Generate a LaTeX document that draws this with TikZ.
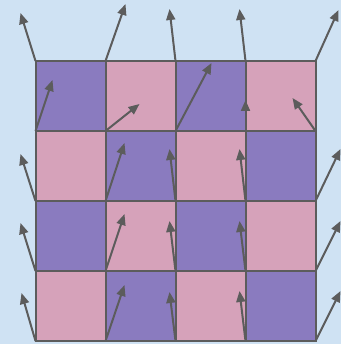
\documentclass[tikz,border=0pt]{standalone}
\usepackage{xcolor}
\usepackage{tikz}
\usetikzlibrary{arrows.meta}
\definecolor{skyback}{HTML}{CFE2F3}
\definecolor{lavender}{HTML}{8A7BBF}
\definecolor{rosy}{HTML}{D6A2BA}
\definecolor{slate}{HTML}{5C5C5C}

\begin{document}
\begin{tikzpicture}[x=1pt,y=-1pt,>={Triangle[length=11pt,width=9pt]},
  cell/.style={draw=slate,line width=2pt},
  vec/.style={->,slate,line width=2pt}]
  \fill[skyback] (0,0) rectangle (341,344);
  \useasboundingbox (0,0) rectangle (341,344);
  % checkerboard
  \foreach \i in {0,...,3}
    \foreach \j in {0,...,3}{
      \pgfmathtruncatemacro\parity{mod(\i+\j,2)}
      \ifnum\parity=0 \def\tint{lavender}\else\def\tint{rosy}\fi
      \draw[cell,fill=\tint] (35.5+70*\i,61+70*\j) rectangle ++(70,70);
    }
  % grid vertices
  \foreach \i in {0,...,4}
    \foreach \j in {0,...,4}
      \coordinate (v\i\j) at (35.5+70*\i,61+70*\j);
  % vectors
  \foreach \i/\j/\dx/\dy in {0/0/-15/-48,1/0/20/-57,2/0/-6/-52,3/0/-6/-52,4/0/23/-51,
      0/1/17/-51,1/1/34/-27,2/1/36/-68,3/1/0/-31,4/1/-23/-33,
      0/2/-15/-47,1/2/19/-58,2/2/-6/-52,3/2/-6/-52,4/2/25/-52,
      0/3/-15/-48,1/3/19/-57,2/3/-6/-50,3/3/-6/-50,4/3/25/-50,
      0/4/-14/-48,1/4/19/-56,2/4/-6/-49,3/4/-6/-50,4/4/25/-50}
    \draw[vec] (v\i\j) -- ++(\dx,\dy);
\end{tikzpicture}
\end{document}
